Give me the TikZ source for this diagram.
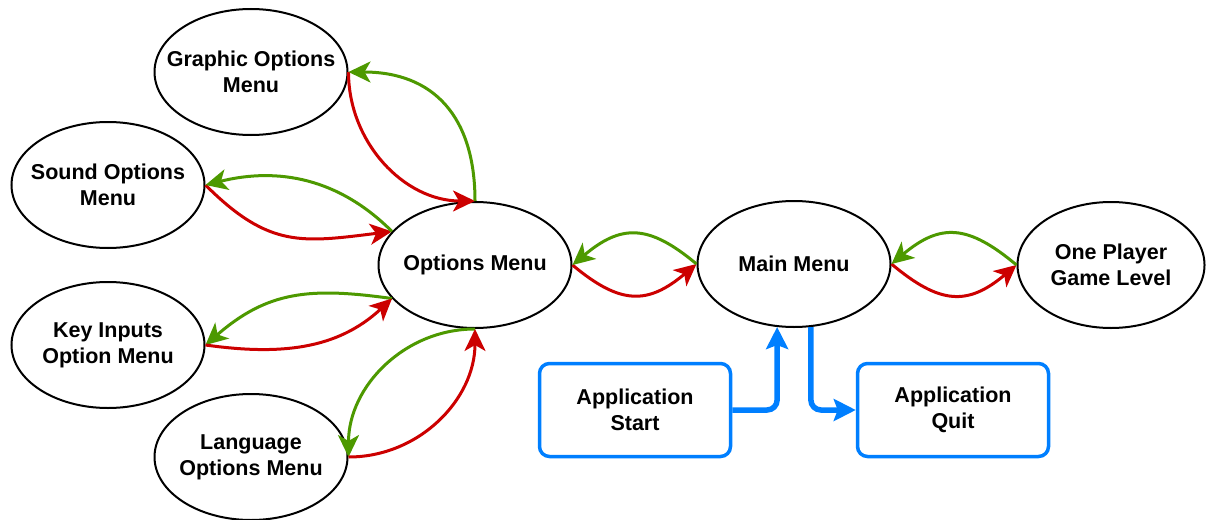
\documentclass[tikz,border=0pt]{standalone}
\usepackage{fontspec}
\setmainfont{Liberation Sans}
\usetikzlibrary{arrows.meta,shapes.geometric}
\definecolor{rd}{RGB}{204,0,0}
\definecolor{gr}{RGB}{77,153,0}
\definecolor{bl}{RGB}{0,127,255}
\begin{document}
\begin{tikzpicture}[x=1pt,y=1pt,
  state/.style={ellipse, draw=black, line width=2pt, minimum width=193pt, minimum height=126pt, inner xsep=-30pt, inner ysep=0pt, align=center, font=\fontsize{21.5}{26}\selectfont\bfseries},
  event/.style={rectangle, rounded corners=10pt, draw=bl, line width=3.5pt, minimum width=191pt, minimum height=93pt, inner sep=0pt, align=center, font=\fontsize{21.5}{26}\selectfont\bfseries},
  fwd/.style={draw=rd, line width=3pt, -{Stealth[length=22pt,width=21pt,inset=6pt]}},
  bck/.style={draw=gr, line width=3pt, -{Stealth[length=22pt,width=21pt,inset=6pt]}},
  flow/.style={draw=bl, line width=5.5pt, rounded corners=10pt, -{Stealth[length=22pt,width=22pt,inset=4pt]}}]
\useasboundingbox (0,0) rectangle (1206,-519);
\node[state] (gom) at (251,-72) {Graphic Options\\Menu};
\node[state] (som) at (108,-185) {Sound Options\\Menu};
\node[state] (kim) at (108,-345) {Key Inputs\\Option Menu};
\node[state] (lom) at (251,-457) {Language\\Options Menu};
\node[state] (om) at (475,-265) {Options Menu};
\node[state] (mm) at (794,-264) {Main Menu};
\node[state, minimum width=187pt] (opg) at (1111,-265) {One Player\\Game Level};
\node[event] (as) at (635,-410) {Application\\Start};
\node[event] (aq) at (953,-410) {Application\\Quit};

\draw[fwd] (gom.east) to[out=-90,in=180] (om.north);
\draw[bck] (om.north) to[out=90,in=0,looseness=1.2] (gom.east);
\draw[fwd] (som.east) to[out=-45,in=187,looseness=1.2] (om.158);
\draw[bck] (om.158) to[out=135,in=14] (som.east);
\draw[bck] (om.202) to[out=172,in=41,looseness=1.1] (kim.east);
\draw[fwd] (kim.east) to[out=-8,in=223] (om.202);
\draw[bck] (om.south) to[out=180,in=90] (lom.east);
\draw[fwd] (lom.east) to[out=0,in=-90] (om.south);
\draw[fwd] (om.east) to[out=-40,in=220,looseness=1.3] (mm.west);
\draw[bck] (mm.west) to[out=140,in=40,looseness=1.3] (om.east);
\draw[fwd] (mm.east) to[out=-40,in=220,looseness=1.3] (opg.west);
\draw[bck] (opg.west) to[out=140,in=40,looseness=1.3] (mm.east);
\draw[flow] (as.east) -| (mm.255);
\draw[flow] (mm.285) |- (aq.west);
\end{tikzpicture}
\end{document}
